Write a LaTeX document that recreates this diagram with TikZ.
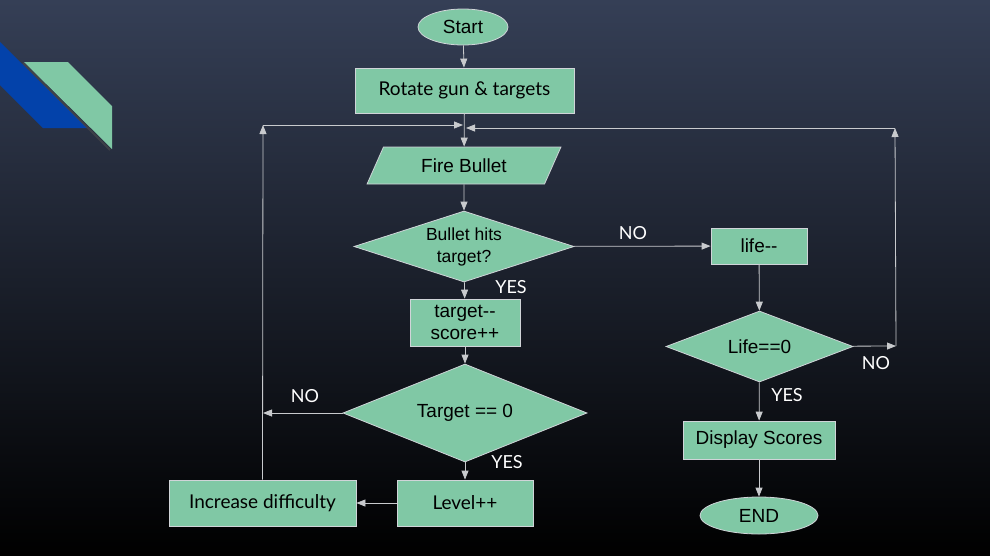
\documentclass[tikz,border=0pt]{standalone}
\usepackage{fontspec}
\setmainfont{Liberation Sans}
\newfontfamily\lato{Lato}
\usetikzlibrary{shapes.geometric,arrows.meta}
\definecolor{boxgreen}{RGB}{128,200,165}
\definecolor{edgegrey}{RGB}{208,212,216}
\definecolor{linegrey}{RGB}{200,202,205}
\definecolor{deckblue}{RGB}{3,66,170}
\definecolor{bgtop}{RGB}{53,63,86}

\begin{document}
\begin{tikzpicture}[x=1pt,y=-1pt,
    shapebase/.style={draw=edgegrey,fill=boxgreen,line width=0.8pt,inner sep=0pt,
      align=center,font=\fontsize{19}{22}\selectfont},
    box/.style={shapebase,rectangle},
    oval/.style={shapebase,ellipse},
    choice/.style={shapebase,diamond},
    slantbox/.style={shapebase,trapezium,trapezium left angle=58,trapezium right angle=122,
      trapezium stretches=true},
    latobox/.style={box,font=\lato\fontsize{19}{22}\selectfont},
    flow/.style={draw=linegrey,line width=0.8pt,-{Triangle[length=9pt,width=7pt]}},
    tag/.style={text=white,font=\lato\fontsize{18}{20}\selectfont,inner sep=0pt}]
        \useasboundingbox (0,0) rectangle (990,555);
        \shade[top color=bgtop,bottom color=black] (0,0) rectangle (990,555);
        % corner decoration
        \fill[deckblue] (0,42) -- (87,128) -- (43,128) -- (0,85) -- cycle;
        \draw[black!70,line width=2pt,opacity=0.6] (23,63) -- (110,150);
        \fill[boxgreen] (24,62) -- (68,62) -- (112,106) -- (112,149) -- cycle;
        % steps
        \node[oval,minimum width=90,minimum height=36] (start) at (463,27) {Start};
        \node[latobox,minimum width=219,minimum height=45] (rotate) at (464.5,90.5) {Rotate gun \& targets};
        \node[slantbox,minimum width=194,minimum height=37] (fire) at (464,165.5) {Fire Bullet};
        \node[choice,aspect=3.1,minimum width=220,minimum height=71,
          font=\fontsize{17.5}{22}\selectfont] (hit) at (464,246.5) {Bullet hits\\target?};
        \node[box,minimum width=96,minimum height=36] (life) at (759,246) {life{-}{-}};
        \node[box,minimum width=110,minimum height=47] (score) at (465,322.5) {target{-}{-}\\score++};
        \node[choice,aspect=2.5,minimum width=244,minimum height=98] (empty) at (465,413) {Target == 0};
        \node[latobox,minimum width=136,minimum height=46] (level) at (465,503) {Level++};
        \node[latobox,minimum width=187,minimum height=46] (harder) at (262.5,503) {Increase difficulty};
        \node[choice,aspect=2.6,minimum width=187,minimum height=71] (dead) at (759.5,346.5) {Life==0};
        \node[box,minimum width=152,minimum height=38] (scores) at (759,440) {Display Scores};
        \node[oval,minimum width=118,minimum height=37] (finish) at (759,515.5) {END};
        % turning points of the loops
        \coordinate (lefttop) at (263,125);
        \coordinate (leftjoin) at (463,125);
        \coordinate (nopoint) at (263,413);
        \coordinate (rightturn) at (896,346);
        \coordinate (righttop) at (895,128);
        \coordinate (rightjoin) at (466,128);
        % connectors
        \draw[flow] (start) -- (rotate);
        \draw[flow] (rotate) -- (fire);
        \draw[flow] (fire) -- (hit);
        \draw[flow] (hit) -- (life);
        \draw[flow] (hit) -- (score);
        \draw[flow] (score) -- (empty);
        \draw[flow] (empty) -- (nopoint);
        \draw[flow] (empty) -- (level);
        \draw[flow] (level) -- (harder);
        \draw[flow] (harder.north) -- (lefttop);
        \draw[flow] (lefttop) -- (leftjoin);
        \draw[flow] (life) -- (dead);
        \draw[flow] (dead) -- (rightturn);
        \draw[flow] (rightturn) -- (righttop);
        \draw[flow] (righttop) -- (rightjoin);
        \draw[flow] (dead) -- (scores);
        \draw[flow] (scores) -- (finish);
        % answers
        \node[tag] (hitno) at (633,233) {NO};
        \node[tag] (hityes) at (511,287) {YES};
        \node[tag] (emptyno) at (305,396) {NO};
        \node[tag] (emptyyes) at (507,462) {YES};
        \node[tag] (deadno) at (876,363) {NO};
        \node[tag] (deadyes) at (787,395) {YES};
      \end{tikzpicture}
\end{document}
